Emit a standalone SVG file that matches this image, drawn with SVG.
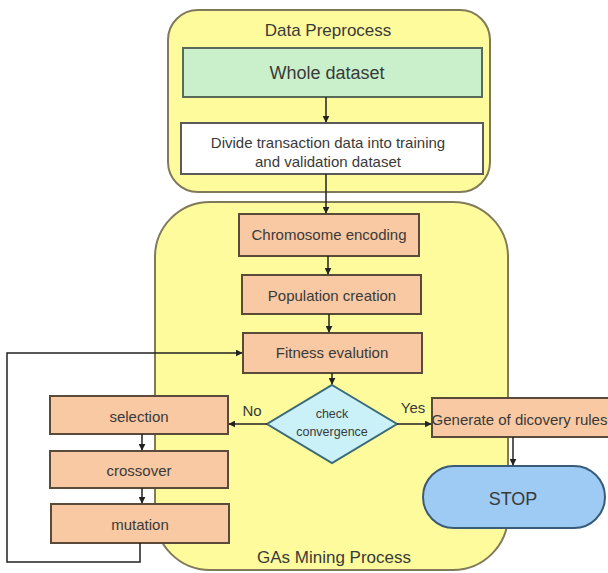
<svg xmlns="http://www.w3.org/2000/svg" width="608" height="573" viewBox="0 0 608 573">
<style>
text{font-family:"Liberation Sans",Arial,sans-serif;text-anchor:middle;fill:#3a3a3a}
.cont{fill:#fdfb9c;stroke:#807a5a;stroke-width:2}
.proc{fill:#f8c9a2;stroke:#5a4a3a;stroke-width:2}
.t15{font-size:15px}
.line{fill:none;stroke:#222;stroke-width:1.5}
</style>
<defs>
<marker id="ah" viewBox="0 0 10 10" refX="9" refY="5" markerWidth="7" markerHeight="7" markerUnits="userSpaceOnUse" orient="auto">
<path d="M0,0 L10,5 L0,10 z" fill="#222"/>
</marker>
</defs>
<g id="data-preprocess">
<rect class="cont" x="168" y="10" width="322" height="182" rx="30"/>
<text x="328" y="36" font-size="17">Data Preprocess</text>
</g>
<g id="gas-mining">
<rect class="cont" x="155" y="202" width="353" height="368" rx="55"/>
<text x="334" y="563" font-size="17">GAs Mining Process</text>
</g>
<g id="whole-dataset">
<rect x="183" y="48" width="299" height="49" fill="#c9f0cb" stroke="#5a6a5a" stroke-width="2"/>
<text x="327" y="79" font-size="18">Whole dataset</text>
</g>
<g id="divide">
<rect x="181" y="123" width="302" height="51" fill="#ffffff" stroke="#5a5a5a" stroke-width="2"/>
<text x="328" y="148" class="t15">Divide transaction data into training</text>
<text x="328" y="167" class="t15">and validation dataset</text>
</g>
<g id="chromosome">
<rect class="proc" x="239" y="214" width="180" height="42"/>
<text x="329" y="240" class="t15">Chromosome encoding</text>
</g>
<g id="population">
<rect class="proc" x="242" y="275" width="179" height="39"/>
<text x="332" y="301" class="t15">Population creation</text>
</g>
<g id="fitness">
<rect class="proc" x="243" y="333" width="179" height="40"/>
<text x="332" y="358" class="t15">Fitness evalution</text>
</g>
<g id="check">
<polygon points="332,385 397,424 332,463 267,424" fill="#c9f1f7" stroke="#3a6a78" stroke-width="2"/>
<text x="332" y="418" font-size="12.5">check</text>
<text x="332" y="436" font-size="12.5">convergence</text>
</g>
<g id="selection">
<rect class="proc" x="50" y="396" width="178" height="38"/>
<text x="139" y="422" class="t15">selection</text>
</g>
<g id="crossover">
<rect class="proc" x="50" y="451" width="178" height="37"/>
<text x="139" y="476" class="t15">crossover</text>
</g>
<g id="mutation">
<rect class="proc" x="51" y="504" width="178" height="39"/>
<text x="140" y="530" class="t15">mutation</text>
</g>
<g id="generate">
<rect class="proc" x="432" y="398" width="180" height="39"/>
<text x="519.5" y="425" class="t15">Generate of dicovery rules</text>
</g>
<g id="stop">
<rect x="423" y="466" width="182" height="62" rx="31" fill="#9ecbf4" stroke="#3a5a7a" stroke-width="2"/>
<text x="513" y="505" font-size="18">STOP</text>
</g>
<g id="connectors">
<line class="line" x1="326" y1="97" x2="326" y2="122" marker-end="url(#ah)"/>
<line class="line" x1="326" y1="174" x2="326" y2="213" marker-end="url(#ah)"/>
<line class="line" x1="328" y1="256" x2="328" y2="274" marker-end="url(#ah)"/>
<line class="line" x1="329" y1="314" x2="329" y2="332" marker-end="url(#ah)"/>
<line class="line" x1="332" y1="373" x2="332" y2="384" marker-end="url(#ah)"/>
<line class="line" x1="267" y1="424" x2="229" y2="424" marker-end="url(#ah)"/>
<line class="line" x1="397" y1="424" x2="431" y2="424" marker-end="url(#ah)"/>
<line class="line" x1="142" y1="434" x2="142" y2="450" marker-end="url(#ah)"/>
<line class="line" x1="142" y1="488" x2="142" y2="503" marker-end="url(#ah)"/>
<line class="line" x1="513" y1="437" x2="513" y2="465" marker-end="url(#ah)"/>
<polyline class="line" points="140,543 140,562 7,562 7,353 242,353" marker-end="url(#ah)"/>
<text x="252" y="416" class="t15">No</text>
<text x="413" y="413" class="t15">Yes</text>
</g>
</svg>
